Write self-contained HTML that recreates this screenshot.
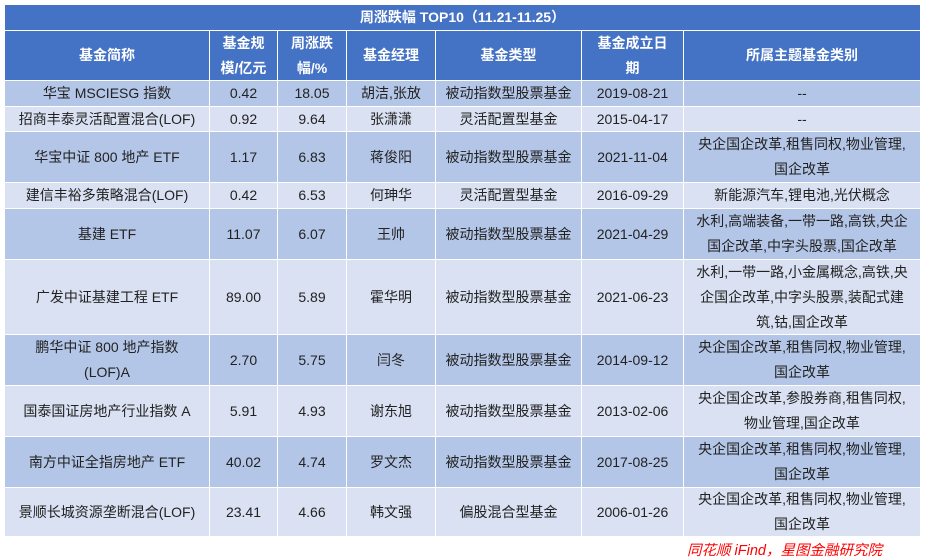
<!DOCTYPE html>
<html><head><meta charset="utf-8"><style>
body{margin:0;width:926px;height:558px;background:#fff;position:relative;overflow:hidden;font-family:"Liberation Sans","Noto Sans CJK SC",sans-serif;}
.c{position:absolute;box-sizing:border-box;display:flex;align-items:center;justify-content:center;text-align:center;font-size:14px;color:#222;line-height:25px;border-right:1px solid #fff;border-bottom:1px solid #fff;padding:0 2px;}
.h{background:#4472c4;color:#fff;font-weight:bold;}
.a{background:#b4c6e7;}
.b{background:#d9e1f2;}
</style></head><body>
<div class="c h" style="left:5px;top:5px;width:916px;height:26px;">周涨跌幅 TOP10（11.21-11.25）</div>
<div id="t"></div>
<div style="position:absolute;left:687px;top:539px;color:#f00;font-style:italic;font-size:14.5px;font-family:'Liberation Sans','Noto Sans CJK SC',sans-serif;">同花顺 iFind，星图金融研究院</div>
<script>
var xs=[5,210,278,347,436,582,684,921];
var ys=[31,81,107,132,183,209,260,335,386,437,488,537];
var rows=[
["基金简称","基金规<br>模/亿元","周涨跌<br>幅/%","基金经理","基金类型","基金成立日<br>期","所属主题基金类别"],
["华宝 MSCIESG 指数","0.42","18.05","胡洁,张放","被动指数型股票基金","2019-08-21","--"],
["招商丰泰灵活配置混合(LOF)","0.92","9.64","张潇潇","灵活配置型基金","2015-04-17","--"],
["华宝中证 800 地产 ETF","1.17","6.83","蒋俊阳","被动指数型股票基金","2021-11-04","央企国企改革,租售同权,物业管理,<br>国企改革"],
["建信丰裕多策略混合(LOF)","0.42","6.53","何珅华","灵活配置型基金","2016-09-29","新能源汽车,锂电池,光伏概念"],
["基建 ETF","11.07","6.07","王帅","被动指数型股票基金","2021-04-29","水利,高端装备,一带一路,高铁,央企<br>国企改革,中字头股票,国企改革"],
["广发中证基建工程 ETF","89.00","5.89","霍华明","被动指数型股票基金","2021-06-23","水利,一带一路,小金属概念,高铁,央<br>企国企改革,中字头股票,装配式建<br>筑,钴,国企改革"],
["鹏华中证 800 地产指数<br>(LOF)A","2.70","5.75","闫冬","被动指数型股票基金","2014-09-12","央企国企改革,租售同权,物业管理,<br>国企改革"],
["国泰国证房地产行业指数 A","5.91","4.93","谢东旭","被动指数型股票基金","2013-02-06","央企国企改革,参股券商,租售同权,<br>物业管理,国企改革"],
["南方中证全指房地产 ETF","40.02","4.74","罗文杰","被动指数型股票基金","2017-08-25","央企国企改革,租售同权,物业管理,<br>国企改革"],
["景顺长城资源垄断混合(LOF)","23.41","4.66","韩文强","偏股混合型基金","2006-01-26","央企国企改革,租售同权,物业管理,<br>国企改革"]];
var h="";
for(var r=0;r<rows.length;r++){var cls=r==0?"h":(r%2?"a":"b");
for(var c=0;c<7;c++){h+='<div class="c '+cls+'" style="left:'+xs[c]+'px;top:'+ys[r]+'px;width:'+(xs[c+1]-xs[c])+'px;height:'+(ys[r+1]-ys[r])+'px;">'+rows[r][c]+'</div>';}}
document.getElementById("t").innerHTML=h;
</script>
</body></html>
